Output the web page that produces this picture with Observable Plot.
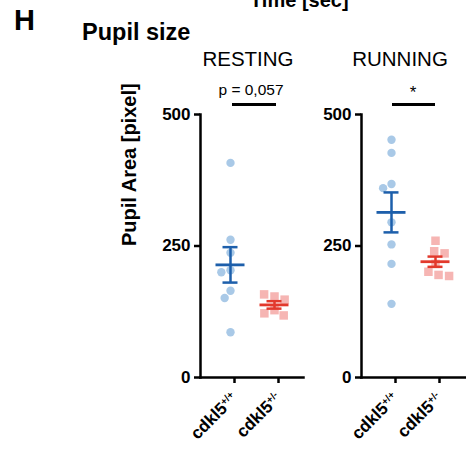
<!DOCTYPE html>
<html>
<head>
<meta charset="utf-8">
<script src="https://cdn.jsdelivr.net/npm/d3@7"></script>
<script src="https://cdn.jsdelivr.net/npm/@observablehq/plot@0.6"></script>
<style>
  html, body { margin: 0; padding: 0; background: #fff; }
  body { width: 466px; height: 452px; position: relative; overflow: hidden; font-family: "Liberation Sans", Arial, sans-serif; color: #000; }
  .abs { position: absolute; white-space: nowrap; line-height: 1; }
  .bar { position: absolute; height: 2.5px; background: #000; }
  svg { position: absolute; overflow: visible; color: #000; }
</style>
</head>
<body>
<div id="root"></div>
<script>
// ---- data ----
const groups = ["cdkl5+/+", "cdkl5+/-"];
const panelTitles = ["RESTING", "RUNNING"];
const yTicks = [0, 250, 500];
const restingWT = [408, 262, 237, 204, 200, 165, 151, 86];
const restingHET = [154, 158, 148, 128, 122, 118];
const runningWT = [452, 427, 368, 360, 295, 253, 216, 140];
const runningHET = [260, 240, 236, 216, 201, 195, 193];
const annotations = ["p = 0,057", "*"];

const blueDot = "#a9c9e7", blueLine = "#1d5fab";
const redDot = "#f6b5b3", redLine = "#e2392c";
const ink = "#000000";
const font = "Liberation Sans, Arial, sans-serif";
const pad = 0.17;

function stats(vals, g) {
  const m = d3.mean(vals), se = d3.deviation(vals) / Math.sqrt(vals.length);
  return {g, m, lo: m - se, hi: m + se};
}

function place(svg, left) {
  svg.style.left = left + "px";
  svg.style.top = "100px";
  svg.style.background = "transparent";
  return svg;
}

function dataPlot(wt, het, opts) {
  const wtData = wt.map(v => ({g: groups[0], v}));
  const hetData = het.map(v => ({g: groups[1], v}));
  const st = [stats(wt, groups[0]), stats(het, groups[1])];
  const colorOf = g => g === groups[0] ? blueLine : redLine;
  return place(Plot.plot({
    width: opts.width, height: 352,
    marginLeft: opts.marginLeft, marginRight: opts.marginRight, marginTop: 14, marginBottom: 75,
    style: {background: "transparent", overflow: "visible"},
    fx: {domain: groups, paddingInner: 0, paddingOuter: pad, axis: null, label: null},
    x: {domain: ["c"], type: "point", axis: null},
    y: {domain: [0, 500], axis: null, label: null},
    marks: [
      Plot.dot(wtData, Plot.dodgeX("middle", {fx: "g", y: "v", r: 4.2, padding: 2.4, fill: blueDot})),
      Plot.dot(hetData, Plot.dodgeX("middle", {fx: "g", y: "v", r: 4.8, padding: 1.4, symbol: "square", fill: redDot})),
      Plot.ruleX(st, {fx: "g", x: () => "c", y1: "lo", y2: "hi", stroke: d => colorOf(d.g), strokeWidth: 2.5}),
      Plot.ruleY(st, {fx: "g", y: "m", insetLeft: 7.5, insetRight: 7.5, stroke: d => colorOf(d.g), strokeWidth: 2.8}),
      Plot.ruleY(st, {fx: "g", y: "lo", insetLeft: 14.5, insetRight: 14.5, stroke: d => colorOf(d.g), strokeWidth: 2.5}),
      Plot.ruleY(st, {fx: "g", y: "hi", insetLeft: 14.5, insetRight: 14.5, stroke: d => colorOf(d.g), strokeWidth: 2.5})
    ]
  }), opts.left);
}

function axesPlot(showLabel, opts) {
  const svg = Plot.plot({
    width: opts.width, height: 352,
    marginLeft: opts.marginLeft, marginRight: opts.marginRight, marginTop: 14, marginBottom: 75,
    style: {background: "transparent", overflow: "visible", fontFamily: font},
    x: {domain: groups, type: "point", padding: pad + 0.5, label: null},
    y: {domain: [0, 500], label: null},
    marks: [
      Plot.frame({anchor: "left", stroke: ink, strokeWidth: 2.5}),
      Plot.frame({anchor: "bottom", stroke: ink, strokeWidth: 2.5}),
      Plot.axisY({ticks: yTicks, tickSize: 6, tickPadding: 4, stroke: ink, fill: ink, strokeWidth: 2.5, fontSize: 17, fontWeight: "bold", fontFamily: font, label: null}),
      Plot.axisX({tickRotate: -45, tickSize: 6, tickPadding: 12, dx: 4, stroke: ink, fill: ink, strokeWidth: 2.5, fontSize: 17, fontWeight: "bold", fontFamily: font, label: null}),
      showLabel ? Plot.text(["Pupil Area [pixel]"], {frameAnchor: "left", rotate: -90, dx: -71, fill: ink, fontSize: 20, fontWeight: "bold", fontFamily: font}) : null
    ]
  });
  // superscript genotype suffixes in the tick labels
  d3.select(svg).selectAll('g[aria-label="x-axis tick label"] text').each(function() {
    const t = this.textContent;
    const base = t.slice(0, 5), sup = t.slice(5);
    const sel = d3.select(this);
    sel.text(null);
    sel.append("tspan").text(base);
    sel.append("tspan").attr("dy", "-0.55em").attr("font-size", "10px").text(sup);
  });
  return place(svg, opts.left);
}

const leftOpts = {left: 0, width: 310, marginLeft: 200, marginRight: 7};
const rightOpts = {left: 301, width: 165, marginLeft: 60, marginRight: 1};
const root = document.getElementById("root");
root.appendChild(dataPlot(restingWT, restingHET, leftOpts));
root.appendChild(dataPlot(runningWT, runningHET, rightOpts));
root.appendChild(axesPlot(true, leftOpts));
root.appendChild(axesPlot(false, rightOpts));

function addText(txt, css) {
  const d = document.createElement("div");
  d.className = "abs";
  d.textContent = txt;
  Object.assign(d.style, css);
  document.body.appendChild(d);
  return d;
}
addText("Time [sec]", {left: "250px", top: "-10px", fontSize: "20px", fontWeight: "bold"});
addText("H", {left: "14px", top: "6px", fontSize: "29px", fontWeight: "bold"});
addText("Pupil size", {left: "82px", top: "21px", fontSize: "23.5px", fontWeight: "bold"});
addText(panelTitles[0], {left: "248px", top: "49px", fontSize: "20.5px", transform: "translateX(-50%)"});
addText(panelTitles[1], {left: "400px", top: "49px", fontSize: "20.5px", transform: "translateX(-50%)"});
addText(annotations[0], {left: "251px", top: "82px", fontSize: "15.5px", transform: "translateX(-50%)"});
addText(annotations[1], {left: "413px", top: "84px", fontSize: "17px", transform: "translateX(-50%)"});
function addBar(l, w, t) {
  const d = document.createElement("div");
  d.className = "bar";
  Object.assign(d.style, {left: l + "px", width: w + "px", top: t + "px"});
  document.body.appendChild(d);
}
addBar(232, 44, 103);
addBar(392, 43, 103);
</script>
</body>
</html>
